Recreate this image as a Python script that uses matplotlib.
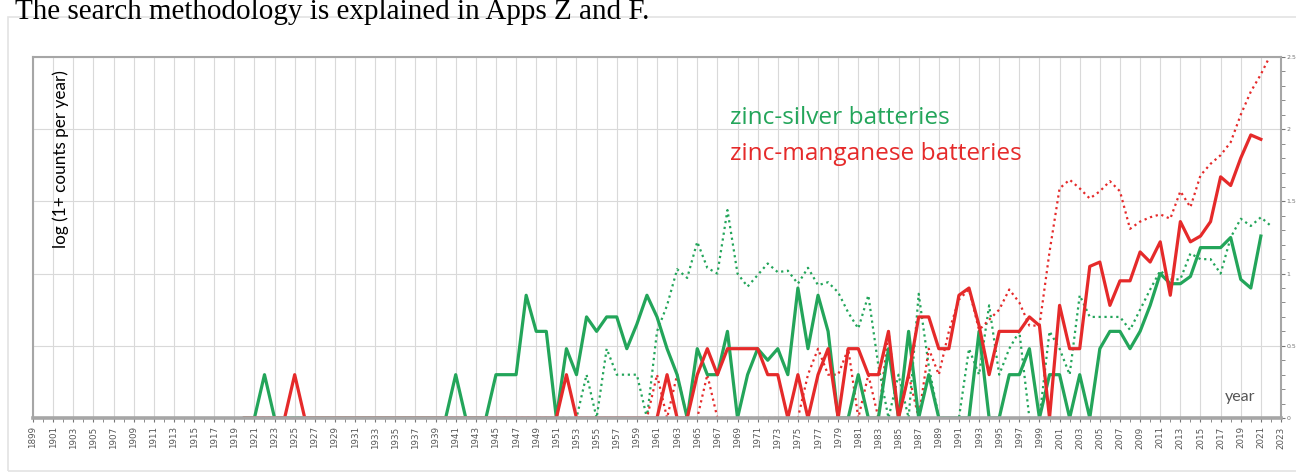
import numpy as np
import matplotlib
matplotlib.use("Agg")
import matplotlib.pyplot as plt
from matplotlib.patches import Rectangle

# years shown, data (log(1+counts))
years = np.arange(1920, 2023)
nan = np.nan

zinc_silver = [0, 0, 0.30, 0] + [0]*17 + [
    0.30, 0, 0, 0, 0.30, 0.30, 0.30, 0.85, 0.60, 0.60,          # 1941-1950
    0, 0.48, 0.30, 0.70, 0.60, 0.70, 0.70, 0.48, 0.65, 0.85,    # 1951-1960
    0.70, 0.48, 0.30, 0, 0.48, 0.30, 0.30, 0.60, 0, 0.30,       # 1961-1970
    0.48, 0.40, 0.48, 0.30, 0.90, 0.48, 0.85, 0.60, 0, 0,       # 1971-1980
    0.30, 0, 0, 0.48, 0, 0.60, 0, 0.30, 0, 0,                   # 1981-1990
    0, 0, 0.60, 0, 0, 0.30, 0.30, 0.48, 0, 0.30,                # 1991-2000
    0.30, 0, 0.30, 0, 0.48, 0.60, 0.60, 0.48, 0.60, 0.78,       # 2001-2010
    1.00, 0.93, 0.93, 0.98, 1.18, 1.18, 1.18, 1.25, 0.96, 0.90, # 2011-2020
    1.26, nan]

zinc_silver_dot = [0]*33 + [
    0, 0.30, 0, 0.48, 0.30, 0.30, 0.30, 0,                      # 1953-1960
    0.60, 0.78, 1.03, 0.97, 1.22, 1.04, 1.00, 1.44, 1.00, 0.91, # 1961-1970
    0.99, 1.07, 1.01, 1.02, 0.93, 1.04, 0.92, 0.94, 0.87, 0.73, # 1971-1980
    0.62, 0.85, 0.36, 0, 0.30, 0, 0.86, 0.36, 0, 0,            # 1981-1990
    0, 0.48, 0.30, 0.78, 0.30, 0.48, 0.60, 0, 0, 0.60,          # 1991-2000
    0.48, 0.30, 0.85, 0.70, 0.70, 0.70, 0.70, 0.61, 0.75, 0.89, # 2001-2010
    1.02, 0.96, 0.96, 1.14, 1.10, 1.10, 1.00, 1.25, 1.38, 1.33, # 2011-2020
    1.39, 1.33]

zinc_mn = [0, 0, 0, 0, 0, 0.30] + [0]*26 + [
    0.30, 0, 0, 0, 0, 0, 0, 0, 0, 0,                            # 1952-1961
    0.30, 0, 0, 0.30, 0.48, 0.30, 0.48, 0.48, 0.48, 0.48,       # 1962-1971
    0.30, 0.30, 0, 0.30, 0, 0.30, 0.48, 0, 0.48, 0.48,          # 1972-1981
    0.30, 0.30, 0.60, 0, 0.30, 0.70, 0.70, 0.48, 0.48, 0.85,    # 1982-1991
    0.90, 0.64, 0.30, 0.60, 0.60, 0.60, 0.70, 0.64, 0, 0.78,    # 1992-2001
    0.48, 0.48, 1.05, 1.08, 0.78, 0.95, 0.95, 1.15, 1.08, 1.22, # 2002-2011
    0.85, 1.36, 1.22, 1.26, 1.36, 1.67, 1.61, 1.80, 1.96, 1.93, # 2012-2021
    nan]

zinc_mn_dot = [0]*41 + [
    0.30, 0, 0.30, 0, 0, 0.30, 0, 0, 0, 0,                      # 1961-1970
    0, 0, 0, 0, 0, 0.30, 0.48, 0.30, 0.30, 0.48,                # 1971-1980
    0, 0.30, 0, 0.60, 0, 0.30, 0, 0.48, 0.30, 0.60,             # 1981-1990
    0.82, 0.89, 0.61, 0.68, 0.75, 0.89, 0.80, 0.64, 0.64, 1.15, # 1991-2000
    1.59, 1.65, 1.59, 1.52, 1.57, 1.64, 1.57, 1.31, 1.36, 1.39, # 2001-2010
    1.41, 1.38, 1.57, 1.46, 1.68, 1.76, 1.82, 1.91, 2.10, 2.26, # 2011-2020
    2.38, 2.52]

green = "#23a55a"
red = "#e52a2a"
gray = "#a6a6a6"

fig = plt.figure(figsize=(12.96, 4.75), dpi=100)
ax = fig.add_axes([33 / 1296, 0.12, 1248 / 1296, 0.76])

ax.plot(years, zinc_silver_dot, color=green, lw=1.6, ls=":", zorder=3)
ax.plot(years, zinc_mn_dot, color=red, lw=1.6, ls=":", zorder=3)
ax.plot(years, zinc_silver, color=green, lw=2.3, zorder=4)
ax.plot(years, zinc_mn, color=red, lw=2.3, zorder=4)

ax.set_xlim(1899, 2023)
ax.set_ylim(0, 2.5)
ax.set_xticks(np.arange(1899, 2024, 2))
ax.set_xticks(np.arange(1899, 2024, 1), minor=True)
ax.set_xticklabels([str(y) for y in range(1899, 2024, 2)], rotation=90,
                   fontsize=6.3, color="#555555")
ax.set_yticks(np.arange(0, 2.51, 0.5))
ax.set_yticks(np.arange(0, 2.51, 0.1), minor=True)
ax.set_yticklabels(["0", "0.5", "1", "1.5", "2", "2.5"], fontsize=4.5, color="#777777")
ax.yaxis.tick_right()
ax.tick_params(axis="both", which="both", direction="out", color="#777777")
ax.tick_params(axis="x", which="major", length=3, pad=3)
ax.tick_params(axis="x", which="minor", length=3)
ax.tick_params(axis="y", which="major", length=3, pad=1)
ax.tick_params(axis="y", which="minor", length=3)
ax.grid(True, which="major", color="#d9d9d9", lw=0.8)
ax.set_axisbelow(True)
for side, sp in ax.spines.items():
    sp.set_color(gray)
    sp.set_linewidth(1.5)
    sp.set_zorder(5)
ax.spines["bottom"].set_linewidth(2.6)

ax.text(0.022, 0.965, "log (1+ counts per year)", transform=ax.transAxes,
        rotation=90, ha="center", va="top", fontsize=12.3, family="Lato")
ax.text(0.9795, 0.04, "year", transform=ax.transAxes, ha="right", va="bottom",
        fontsize=11.5, color="#555555", family="Lato")
ax.text(0.5585, 0.831, "zinc-silver batteries", transform=ax.transAxes, color=green,
        fontsize=17.6, family="Open Sans", va="center")
ax.text(0.5585, 0.731, "zinc-manganese batteries", transform=ax.transAxes, color=red,
        fontsize=17.6, family="Open Sans", va="center")

# chart area border and the sentence above it
fig.patches.append(Rectangle((8 / 1296, 4 / 475), 1.0, 454 / 475, transform=fig.transFigure,
                             fill=False, edgecolor="#e3e3e3", lw=1.2))
fig.text(15 / 1296, 1 - 19 / 475, "The search methodology is explained in Apps Z and F.",
         fontsize=21, family="Liberation Serif", va="baseline", ha="left")

fig.savefig("out.png", dpi=100)
